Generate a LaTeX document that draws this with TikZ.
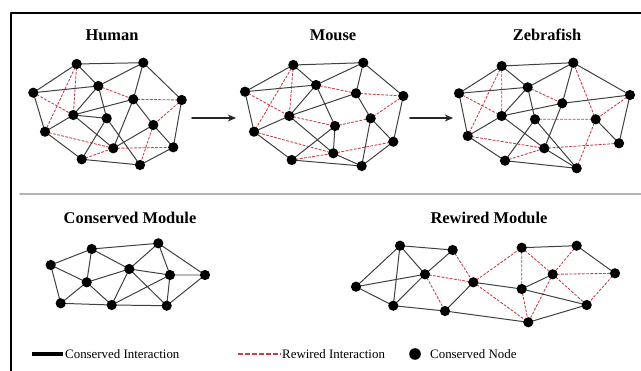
\documentclass[tikz,border=0pt]{standalone}
\usepackage{fontspec}
\setmainfont{Liberation Serif}
\usetikzlibrary{arrows.meta}
\definecolor{rewired}{RGB}{205,60,70}
\begin{document}
\begin{tikzpicture}[line join=round, line cap=round, x=0.03cm, y=-0.03cm,
	cons/.style={black!75, line width=0.85pt},
	rew/.style={rewired, line width=0.75pt, dash pattern=on 2pt off 1.6pt},
	title/.style={font=\bfseries\fontsize{14}{16}\selectfont},
	leg/.style={font=\fontsize{11}{13}\selectfont, anchor=west, inner sep=0pt}]
				\useasboundingbox (0,0) rectangle (641,371);
				\draw[line width=1.7pt] (11,380) -- (11,13) -- (650,13);
				\draw[black!30, line width=1.2pt] (20,194) -- (641,194);
				% Human
				\coordinate (H1) at (76.7,64);   \coordinate (H2) at (143.3,62.7);
				\coordinate (H3) at (33.3,92.7); \coordinate (H4) at (98.3,86);
				\coordinate (H5) at (133.3,99.3);\coordinate (H6) at (181.7,100);
				\coordinate (H7) at (73.3,115);  \coordinate (H8) at (106.7,118.3);
				\coordinate (H9) at (45,131.7);  \coordinate (H10) at (153.3,125);
				\coordinate (H11) at (113.3,148.3);\coordinate (H12) at (173.3,147.3);
				\coordinate (H13) at (81.7,159.3);\coordinate (H14) at (140,165);
				\draw[rew](H3)--(H7) (H1)--(H9) (H1)--(H7) (H4)--(H5) (H5)--(H6) (H9)--(H11) (H6)--(H10) (H11)--(H12) (H10)--(H14) (H13)--(H11);
				\draw[cons](H1)--(H2) (H1)--(H3) (H1)--(H4) (H2)--(H4) (H2)--(H5) (H2)--(H6) (H3)--(H4) (H3)--(H9) (H4)--(H7) (H4)--(H8) (H7)--(H5) (H7)--(H8) (H9)--(H7) (H7)--(H11) (H8)--(H13) (H8)--(H14) (H5)--(H10) (H5)--(H11) (H6)--(H12) (H10)--(H12) (H13)--(H14) (H9)--(H13) (H12)--(H14) (H10)--(H11);
				% Mouse
				\coordinate (M1) at (293.3,65);  \coordinate (M2) at (363.3,62.7);
				\coordinate (M3) at (245,91.7);  \coordinate (M4) at (316,85);
				\coordinate (M5) at (356,93.3);  \coordinate (M6) at (403.3,96);
				\coordinate (M7) at (289.3,116); \coordinate (M8) at (335,126);
				\coordinate (M9) at (370.7,118.3);\coordinate (M10) at (254,131.7);
				\coordinate (M11) at (393.3,141.7);\coordinate (M12) at (333.3,153.3);
				\coordinate (M13) at (291.7,160);\coordinate (M14) at (361.7,166);
				\draw[rew](M1)--(M10) (M1)--(M7) (M4)--(M5) (M5)--(M6) (M6)--(M9) (M7)--(M8) (M8)--(M9) (M10)--(M12) (M12)--(M11) (M13)--(M12) (M3)--(M7);
				\draw[cons](M1)--(M2) (M1)--(M3) (M1)--(M4) (M2)--(M4) (M2)--(M5) (M2)--(M6) (M3)--(M4) (M3)--(M10) (M4)--(M7) (M4)--(M8) (M7)--(M5) (M7)--(M12) (M7)--(M10) (M13)--(M8) (M13)--(M14) (M8)--(M12) (M5)--(M9) (M9)--(M11) (M6)--(M11) (M9)--(M14) (M12)--(M14) (M10)--(M13) (M11)--(M14);
				% Zebrafish
				\coordinate (Z1) at (501.7,66);  \coordinate (Z2) at (573.3,62.7);
				\coordinate (Z3) at (459,93.3);  \coordinate (Z4) at (527.7,87.3);
				\coordinate (Z5) at (562.3,103.3);\coordinate (Z6) at (630,95);
				\coordinate (Z7) at (501.7,116); \coordinate (Z8) at (535,119.3);
				\coordinate (Z9) at (595.7,119.3);\coordinate (Z10) at (467.7,136);
				\coordinate (Z11) at (544.3,148.3);\coordinate (Z12) at (619,143.3);
				\coordinate (Z13) at (505,160.7);\coordinate (Z14) at (576.7,168.3);
				\draw[rew](Z1)--(Z7) (Z1)--(Z10) (Z3)--(Z7) (Z4)--(Z5) (Z2)--(Z9) (Z8)--(Z9) (Z10)--(Z11) (Z11)--(Z12) (Z13)--(Z11) (Z9)--(Z14) (Z6)--(Z9);
				\draw[cons](Z1)--(Z2) (Z1)--(Z3) (Z1)--(Z4) (Z2)--(Z4) (Z2)--(Z5) (Z2)--(Z6) (Z3)--(Z4) (Z3)--(Z10) (Z4)--(Z7) (Z4)--(Z8) (Z7)--(Z5) (Z7)--(Z11) (Z5)--(Z6) (Z6)--(Z12) (Z9)--(Z12) (Z8)--(Z13) (Z8)--(Z14) (Z13)--(Z14) (Z10)--(Z13) (Z11)--(Z14) (Z5)--(Z11) (Z7)--(Z10);
				% modules
				\coordinate (C1) at (91.7,249);  \coordinate (C2) at (158.3,243.3);
				\coordinate (C3) at (50.7,265);  \coordinate (C4) at (129.3,269);
				\coordinate (C5) at (170,275);   \coordinate (C6) at (205,275);
				\coordinate (C7) at (86.7,282.3);\coordinate (C8) at (60.7,303.3);
				\coordinate (C9) at (111.7,305); \coordinate (C10) at (166.7,305.7);
				\draw[cons](C1)--(C2) (C1)--(C3) (C1)--(C7) (C1)--(C4) (C3)--(C7) (C3)--(C8) (C7)--(C4) (C7)--(C8) (C7)--(C9) (C8)--(C9) (C9)--(C4) (C9)--(C5) (C9)--(C10) (C4)--(C2) (C4)--(C5) (C4)--(C10) (C2)--(C5) (C2)--(C6) (C5)--(C6) (C5)--(C10) (C10)--(C6);
				\coordinate (R1) at (400,245.7); \coordinate (R2) at (452.7,250);
				\coordinate (R3) at (356,286.7); \coordinate (R4) at (425,274.3);
				\coordinate (R5) at (473.3,282.3);\coordinate (R6) at (393.3,305.7);
				\coordinate (R7) at (445,311);   \coordinate (R8) at (521.7,247.7);
				\coordinate (R9) at (576.7,245.7);\coordinate (R10) at (552.7,274.3);
				\coordinate (R11) at (615,273.3);\coordinate (R12) at (521.7,289);
				\coordinate (R13) at (586.7,305);\coordinate (R14) at (528.3,322.3);
				\draw[rew](R2)--(R5) (R4)--(R5) (R4)--(R7) (R5)--(R8) (R5)--(R14) (R8)--(R12) (R8)--(R10) (R12)--(R14) (R10)--(R14) (R9)--(R10) (R10)--(R11) (R10)--(R13) (R11)--(R13);
				\draw[cons](R1)--(R2) (R1)--(R3) (R1)--(R4) (R1)--(R6) (R3)--(R4) (R3)--(R6) (R2)--(R4) (R4)--(R6) (R6)--(R7) (R7)--(R5) (R5)--(R12) (R12)--(R13) (R7)--(R14) (R14)--(R13) (R8)--(R9) (R9)--(R11) (R12)--(R10);
				\foreach \i in {H1,H2,H3,H4,H5,H6,H7,H8,H9,H10,H11,H12,H13,H14,M1,M2,M3,M4,M5,M6,M7,M8,M9,M10,M11,M12,M13,M14,Z1,Z2,Z3,Z4,Z5,Z6,Z7,Z8,Z9,Z10,Z11,Z12,Z13,Z14,C1,C2,C3,C4,C5,C6,C7,C8,C9,C10,R1,R2,R3,R4,R5,R6,R7,R8,R9,R10,R11,R12,R13,R14}{\fill(\i) circle (5.1);}
				\coordinate (a1) at (192,118); \coordinate (b1) at (236,118);
				\coordinate (a2) at (410,118); \coordinate (b2) at (453,118);
				\draw[black!85, line width=1.4pt, -{Stealth[length=7pt,width=6pt]}] (a1)--(b1);
				\draw[black!85, line width=1.4pt, -{Stealth[length=7pt,width=6pt]}] (a2)--(b2);
				\node[title] (human) at (112,35) {Human};
				\node[title] (mouse) at (333,35) {Mouse};
				\node[title] (zebra) at (547,35) {Zebrafish};
				\node[title] (cmod) at (130,218) {Conserved Module};
				\node[title] (rmod) at (489,218) {Rewired Module};
				% legend
				\coordinate (l1) at (32,354); \coordinate (l2) at (63,354);
				\coordinate (l3) at (238,354); \coordinate (l4) at (281,354);
				\draw[black, line width=2.6pt, line cap=butt] (l1)--(l2);
				\node[leg] (lcons) at (65,354) {Conserved Interaction};
				\draw[rewired, line width=1.6pt, line cap=butt, dash pattern=on 4pt off 2pt] (l3)--(l4);
				\node[leg] (lrew) at (282,354) {Rewired Interaction};
				\fill (415,354) coordinate (ldot) circle (5.8);
				\node[leg] (lnode) at (430,354) {Conserved Node};
			\end{tikzpicture}
\end{document}
